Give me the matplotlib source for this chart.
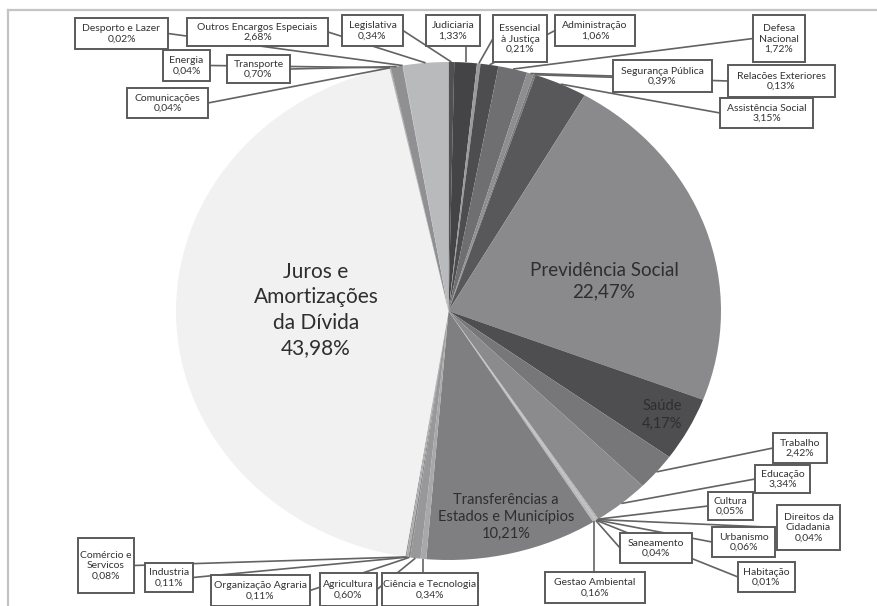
import numpy as np
import matplotlib
matplotlib.use("Agg")
import matplotlib.pyplot as plt
from matplotlib.patches import Rectangle

plt.rcParams['font.family'] = ['Lato', 'DejaVu Sans']

# ---------------- data (clockwise from 12 o'clock) ----------------
categories = [
    "Legislativa", "Judiciaria", "Essencial\nà Justiça", "Administração",
    "Defesa\nNacional", "Segurança Pública", "Relacões Exteriores",
    "Assistência Social", "Previdência Social", "Saúde", "Trabalho",
    "Educação", "Cultura", "Direitos da\nCidadania", "Urbanismo", "Habitação",
    "Saneamento", "Gestao Ambiental", "Transferências a\nEstados e Municípios",
    "Ciência e Tecnologia", "Agricultura", "Organização Agraria", "Industria",
    "Comércio e\nServicos", "Juros e\nAmortizações\nda Dívida", "Comunicações",
    "Energia", "Transporte", "Desporto e Lazer", "Outros Encargos Especiais",
]
values = [
    0.34, 1.33, 0.21, 1.06,
    1.72, 0.39, 0.13,
    3.15, 22.47, 4.17, 2.42,
    3.34, 0.05, 0.04, 0.06, 0.01,
    0.04, 0.16, 10.21,
    0.34, 0.60, 0.11, 0.11,
    0.08, 43.98, 0.04,
    0.04, 0.70, 0.02, 2.68,
]
colors = [
    "#505052", "#444446", "#9a9a9c", "#4d4d4f",
    "#6f6f71", "#8e8e90", "#7a7a7c",
    "#58585a", "#8a8a8c", "#4e4e50", "#77777a",
    "#8b8b8d", "#aaaaaa", "#999999", "#bbbbbb", "#999999",
    "#aaaaaa", "#b8b8b8", "#7f7f81",
    "#a8a8a8", "#98989a", "#888888", "#aaaaaa",
    "#999999", "#f1f1f1", "#aaaaaa",
    "#999999", "#909092", "#aaaaaa", "#b9babc",
]

# ---------------- layout ----------------
callout_boxes = {
    "Legislativa": (342, 15, 403, 46),
    "Judiciaria": (426, 15, 480, 46),
    "Essencial\nà Justiça": (493, 15, 547, 62),
    "Administração": (555, 15, 635, 46),
    "Defesa\nNacional": (753, 15, 805, 62),
    "Segurança Pública": (613, 60, 712, 92),
    "Relacões Exteriores": (728, 65, 835, 97),
    "Assistência Social": (720, 98, 813, 128),
    "Trabalho": (773, 433, 827, 463),
    "Educação": (755, 465, 810, 493),
    "Cultura": (708, 492, 753, 520),
    "Direitos da\nCidadania": (777, 505, 840, 550),
    "Urbanismo": (712, 527, 775, 557),
    "Habitação": (738, 562, 795, 592),
    "Saneamento": (620, 533, 692, 563),
    "Gestao Ambiental": (545, 572, 645, 603),
    "Ciência e Tecnologia": (382, 573, 478, 606),
    "Agricultura": (320, 573, 377, 606),
    "Organização Agraria": (211, 575, 310, 606),
    "Industria": (145, 563, 193, 592),
    "Comércio e\nServicos": (78, 538, 134, 593),
    "Comunicações": (127, 88, 208, 118),
    "Energia": (163, 50, 210, 81),
    "Transporte": (227, 55, 290, 83),
    "Desporto e Lazer": (75, 18, 168, 49),
    "Outros Encargos Especiais": (187, 18, 328, 46),
}
# inside labels: category -> (x, y, fontsize, linespacing)
inside_labels = {
    "Juros e\nAmortizações\nda Dívida": (316, 310, 15, 1.35),
    "Previdência Social": (604, 281, 13.5, 1.3),
    "Saúde": (662, 415, 10.5, 1.35),
    "Transferências a\nEstados e Municípios": (506, 517, 10.5, 1.3),
}

W, H = 877, 606
cx, cy, rx, ry = 448.5, 311, 272.5, 249

fig = plt.figure(figsize=(W / 100, H / 100), dpi=100)
fig.patch.set_facecolor("white")

ax_pie = fig.add_axes([(cx - rx) / W, (H - cy - ry) / H, 2 * rx / W, 2 * ry / H])
ax_pie.set_zorder(0)
wedges, _ = ax_pie.pie(values, colors=colors, startangle=90, counterclock=False,
                       radius=1.0, wedgeprops=dict(linewidth=0))
ax_pie.set_aspect("auto")
ax_pie.set_xlim(-1, 1)
ax_pie.set_ylim(-1, 1)
ax_pie.axis("off")

ax = fig.add_axes([0, 0, 1, 1])
ax.set_zorder(1)
ax.patch.set_alpha(0)
ax.set_xlim(0, W)
ax.set_ylim(H, 0)
ax.axis("off")

# chart frame (top & left)
ax.plot([8, W], [10, 10], color="#c4c4c4", lw=1.6, zorder=1)
ax.plot([8, 8], [10, H], color="#c4c4c4", lw=1.6, zorder=1)

to_pix = ax_pie.transData + ax.transData.inverted()

def fmt(v):
    return f"{v:.2f}".replace(".", ",") + "%"

for w, cat, v in zip(wedges, categories, values):
    th = np.deg2rad((w.theta1 + w.theta2) / 2)
    px, py = to_pix.transform((np.cos(th), np.sin(th)))
    if cat in callout_boxes:
        x0, y0, x1, y1 = callout_boxes[cat]
        xc, yc = (x0 + x1) / 2, (y0 + y1) / 2
        if px > x1:
            a = (x1, yc)
        elif px < x0:
            a = (x0, yc)
        elif py > y1:
            a = (min(max(px, x0 + 3), x1 - 3), y1)
        else:
            a = (min(max(px, x0 + 3), x1 - 3), y0)
        ax.plot([a[0], px], [a[1], py], color="#636363", lw=1.2, zorder=2,
                solid_capstyle="butt")
        ax.add_patch(Rectangle((x0, y0), x1 - x0, y1 - y0, facecolor="white",
                               edgecolor="#5a5a5a", lw=1.4, zorder=3))
        ax.text(xc, yc + 0.5, cat + "\n" + fmt(v), ha="center", va="center",
                fontsize=7.5, color="#333333", linespacing=1.15, zorder=4)
    elif cat in inside_labels:
        x, y, fs, ls = inside_labels[cat]
        ax.text(x, y, cat + "\n" + fmt(v), ha="center", va="center",
                fontsize=fs, color="#2e2e2e", linespacing=ls, zorder=4)

fig.savefig("out.png", dpi=100, facecolor="white")
